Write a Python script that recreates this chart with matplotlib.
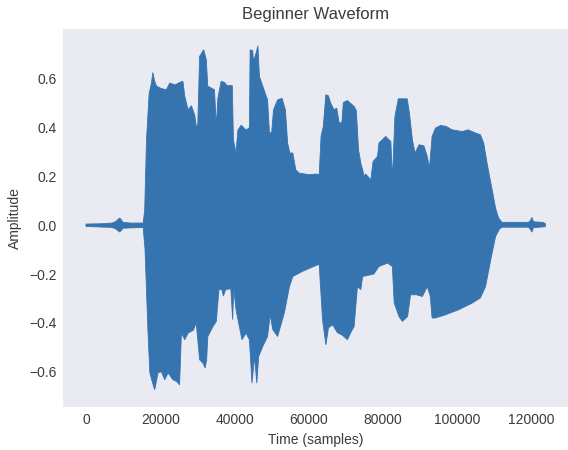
import numpy as np
import matplotlib
matplotlib.use('Agg')
import matplotlib.pyplot as plt

# Envelope of the waveform (sample index, amplitude)
upper_x = [0, 4000, 7000, 8000, 9100, 10000, 12000, 15400, 15800, 16300,
           17000, 17600, 18000, 18500, 19000, 20300, 21650, 22550, 24000, 25200,
           26100, 26600, 27500, 28400, 29300, 29700, 30100, 30600, 31700, 32400,
           32800, 34600, 35100, 35500, 36400, 37300, 38000, 39400, 39700, 40400,
           40900, 41800, 43100, 44000, 44200, 44900, 45100, 45700, 46300, 46700,
           47600, 48900, 49400, 50000, 50500, 51600, 52800, 53700, 54300, 54900,
           55700, 56500, 57400, 60100, 62000, 62800, 63300, 63900, 64600, 65300,
           65900, 66800, 67500, 68200, 68900, 69300, 70400, 72200, 72800, 73400,
           74000, 74500, 74900, 75300, 76700, 77300, 78500, 78900, 80700, 82100,
           82500, 83200, 84100, 86500, 87100, 87900, 88600, 89700, 91000, 91900,
           92500, 93200, 94100, 95500, 97000, 98600, 101300, 102900, 104900, 106200,
           107100, 108000, 109200, 110300, 111100, 112000, 119200, 119800, 120100, 120500,
           123000, 123700]
upper_y = [0.005, 0.006, 0.009, 0.015, 0.03, 0.012, 0.009, 0.009, 0.06, 0.35,
           0.54, 0.58, 0.626, 0.59, 0.57, 0.56, 0.555, 0.583, 0.575, 0.585,
           0.59, 0.528, 0.473, 0.49, 0.45, 0.405, 0.41, 0.692, 0.719, 0.678,
           0.57, 0.555, 0.405, 0.52, 0.59, 0.585, 0.572, 0.572, 0.35, 0.296,
           0.39, 0.41, 0.39, 0.40, 0.719, 0.715, 0.671, 0.70, 0.735, 0.61,
           0.57, 0.514, 0.378, 0.38, 0.473, 0.514, 0.52, 0.473, 0.337, 0.296,
           0.296, 0.227, 0.214, 0.207, 0.21, 0.207, 0.364, 0.405, 0.535, 0.53,
           0.50, 0.473, 0.48, 0.419, 0.42, 0.503, 0.511, 0.487, 0.47, 0.309,
           0.255, 0.227, 0.20, 0.21, 0.186, 0.261, 0.282, 0.337, 0.364, 0.343,
           0.186, 0.446, 0.518, 0.518, 0.46, 0.35, 0.296, 0.33, 0.325, 0.282,
           0.234, 0.364, 0.398, 0.409, 0.405, 0.391, 0.384, 0.391, 0.378, 0.371,
           0.337, 0.255, 0.159, 0.07, 0.03, 0.012, 0.012, 0.022, 0.032, 0.014,
           0.012, 0.007]

lower_x = [0, 7000, 8000, 9100, 10000, 15400, 15900, 16700, 17200, 18000,
           18500, 19400, 20300, 21200, 22100, 23400, 24400, 25200, 25700, 26600,
           27500, 28900, 29700, 30100, 30600, 31500, 32100, 32500, 32800, 34200,
           35100, 35800, 36600, 37000, 37600, 39000, 39500, 39800, 40400, 41300,
           42000, 43100, 44000, 44700, 45400, 46000, 46500, 47600, 48900, 49600,
           50300, 51600, 53400, 54800, 55700, 58300, 62400, 62800, 63700, 64600,
           65300, 66400, 67700, 69000, 70400, 71300, 72200, 73100, 74000, 74500,
           76000, 77500, 78900, 81200, 82500, 83000, 84300, 85200, 86600, 87400,
           89000, 90600, 91900, 92700, 93200, 94100, 96800, 100400, 104000, 106200,
           107600, 109000, 110300, 111400, 112000, 119200, 119800, 120100, 120500, 123700]
lower_y = [-0.005, -0.009, -0.015, -0.028, -0.012, -0.009, -0.1, -0.44, -0.605, -0.65,
           -0.674, -0.605, -0.60, -0.633, -0.605, -0.633, -0.64, -0.654, -0.442, -0.469,
           -0.442, -0.43, -0.401, -0.469, -0.551, -0.565, -0.585, -0.55, -0.456, -0.415,
           -0.394, -0.264, -0.264, -0.29, -0.264, -0.26, -0.387, -0.26, -0.346, -0.415,
           -0.469, -0.442, -0.469, -0.647, -0.54, -0.647, -0.538, -0.497, -0.456, -0.367,
           -0.428, -0.456, -0.36, -0.251, -0.21, -0.189, -0.162, -0.162, -0.387, -0.49,
           -0.42, -0.408, -0.44, -0.45, -0.469, -0.44, -0.415, -0.251, -0.264, -0.21,
           -0.205, -0.20, -0.169, -0.155, -0.169, -0.319, -0.374, -0.394, -0.374, -0.285,
           -0.285, -0.292, -0.251, -0.29, -0.38, -0.38, -0.367, -0.346, -0.319, -0.298,
           -0.251, -0.141, -0.046, -0.015, -0.008, -0.008, -0.02, -0.028, -0.01, -0.006]

x_ticks = [0, 20000, 40000, 60000, 80000, 100000, 120000]
y_ticks = [-0.6, -0.4, -0.2, 0.0, 0.2, 0.4, 0.6]

plt.rcParams['font.family'] = ['Liberation Sans', 'DejaVu Sans']
text_color = '#3b3b3b'

fig = plt.figure(figsize=(5.68, 4.5), dpi=100)
ax = fig.add_axes([0.111, 0.096, 0.889, 0.84])
ax.set_facecolor('#eaeaf2')
for s in ax.spines.values():
    s.set_visible(False)

# waveform drawn as the filled envelope
wave_color = '#3674b0'
xs = np.concatenate([upper_x, lower_x[::-1]])
ys = np.concatenate([upper_y, lower_y[::-1]])
ax.fill(xs, ys, color=wave_color, linewidth=0.6, edgecolor=wave_color)

ax.set_xlim(-6180, 129800)
ax.set_ylim(-0.744, 0.805)
ax.set_xticks(x_ticks)
ax.set_yticks(y_ticks)
ax.set_yticklabels(['\u22120.6', '\u22120.4', '\u22120.2', '0.0', '0.2', '0.4', '0.6'])
ax.tick_params(length=0, labelsize=10, labelcolor=text_color, pad=4.5)

ax.set_title('Beginner Waveform', fontsize=12, color=text_color, pad=7)
ax.set_xlabel('Time (samples)', fontsize=10, color=text_color, labelpad=4)
ax.set_ylabel('Amplitude', fontsize=10, color=text_color, labelpad=5)

plt.savefig('out.png', dpi=100)
